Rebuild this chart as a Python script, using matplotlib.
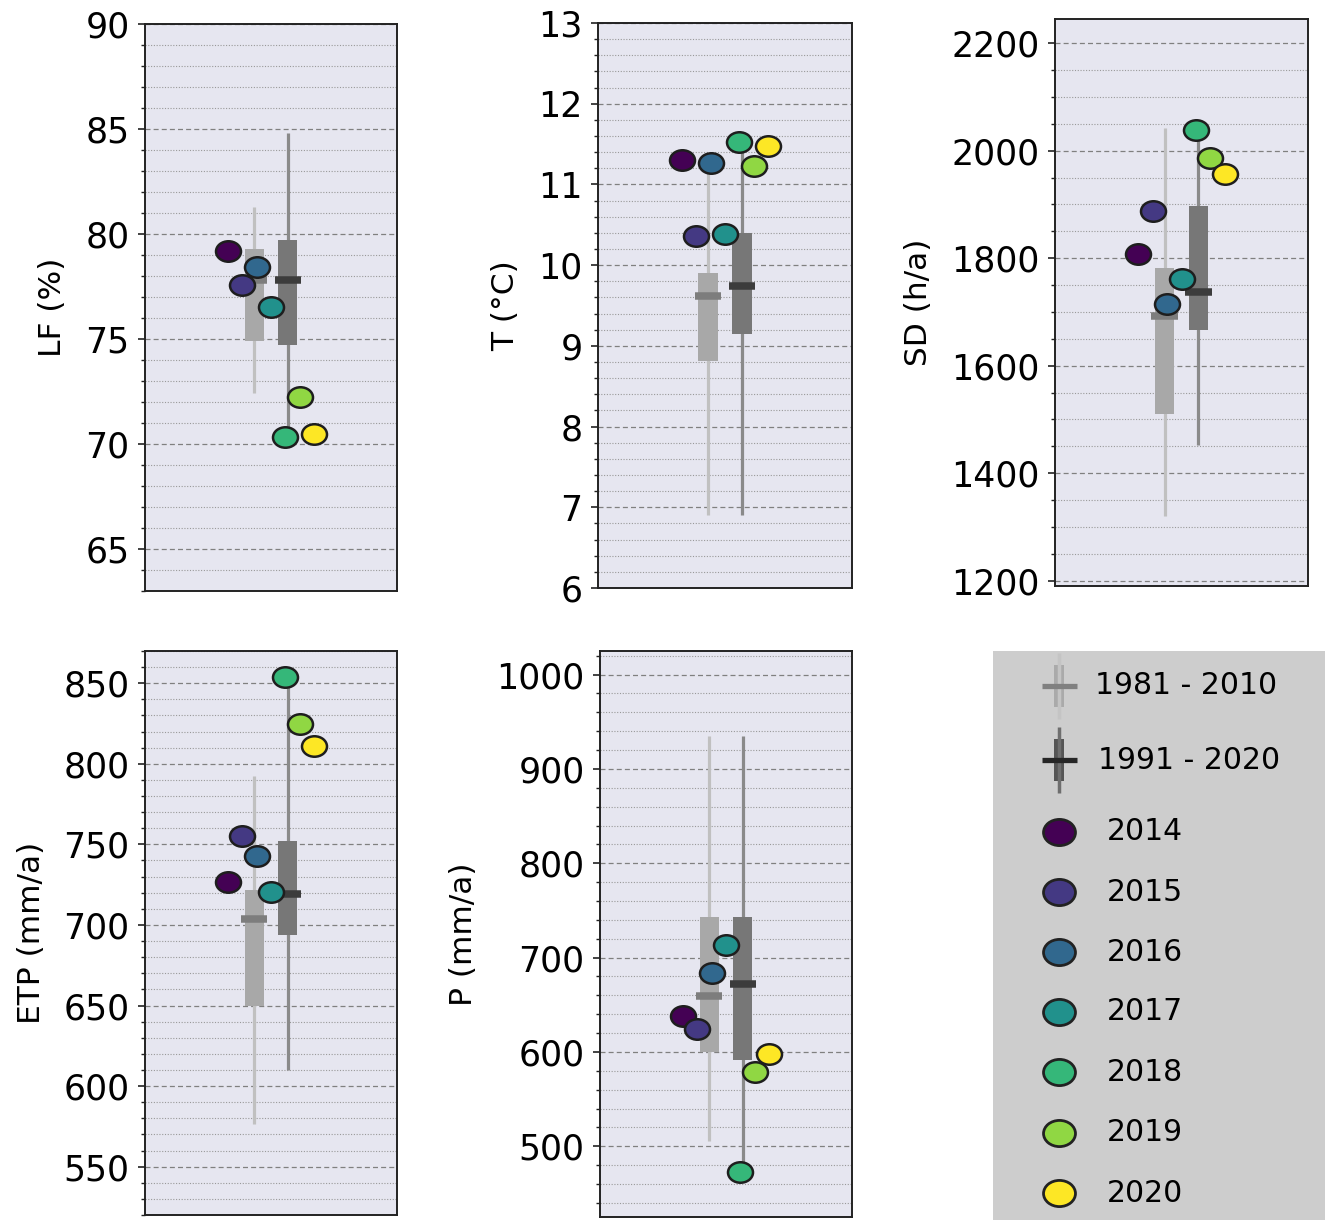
import numpy as np
import matplotlib
matplotlib.use("Agg")
import matplotlib.pyplot as plt
from matplotlib.path import Path
from matplotlib.ticker import MultipleLocator

# ---------------- data ----------------
years = ["2014", "2015", "2016", "2017", "2018", "2019", "2020"]
periods = ["1981 - 2010", "1991 - 2020"]

ylabels = ["LF (%)", "T (°C)", "SD (h/a)", "ETP (mm/a)", "P (mm/a)"]

lf_years = [79.2, 77.55, 78.4, 76.5, 70.3, 72.2, 70.45]
lf_ref1 = dict(lo=72.4, q1=74.9, med=77.8, q3=79.3, hi=81.3)
lf_ref2 = dict(lo=70.3, q1=74.7, med=77.8, q3=79.7, hi=84.8)

t_years = [11.30, 10.36, 11.26, 10.38, 11.53, 11.23, 11.48]
t_ref1 = dict(lo=6.90, q1=8.81, med=9.62, q3=9.90, hi=11.2)
t_ref2 = dict(lo=6.90, q1=9.15, med=9.74, q3=10.40, hi=11.53)

sd_years = [1807, 1887, 1714, 1762, 2038, 1986, 1956]
sd_ref1 = dict(lo=1321, q1=1511, med=1692, q3=1781, hi=2043)
sd_ref2 = dict(lo=1453, q1=1666, med=1737, q3=1897, hi=2038)

etp_years = [726.6, 755.3, 742.9, 720.5, 853.8, 824.9, 811.1]
etp_ref1 = dict(lo=576.5, q1=649.5, med=703.8, q3=721.8, hi=792.4)
etp_ref2 = dict(lo=609.7, q1=693.6, med=718.9, q3=752.1, hi=853.8)

p_years = [637.8, 623.9, 683.8, 713.5, 472.6, 579.2, 597.7]
p_ref1 = dict(lo=505.8, q1=600.4, med=659.5, q3=743.2, hi=934.4)
p_ref2 = dict(lo=472.6, q1=591.5, med=672.2, q3=743.2, hi=934.4)

# ---------------- style ----------------
W, H = 1325, 1220
fig = plt.figure(figsize=(W / 100, H / 100), dpi=100)

def rect(l, t, r, b):
    return [l / W, 1 - b / H, (r - l) / W, (b - t) / H]

year_colors = [plt.cm.viridis(v) for v in np.linspace(0, 1, len(years))]
circ = Path.unit_circle()
ell = Path(circ.vertices * np.array([1.22, 1.0]), circ.codes)

ref_styles = [
    dict(whisk="#c0c0c0", box="#a8a8a8", med="#7d7d7d"),
    dict(whisk="#8a8a8a", box="#777777", med="#3c3c3c"),
]
box_x = [0.433, 0.567]
pt_x = [0.5 + (i - 3) * 0.0567 for i in range(len(years))]

panels = [
    (rect(145, 24, 397, 590.5), lf_years, [lf_ref1, lf_ref2], (63, 90), 5, 1),
    (rect(598, 23, 852, 588), t_years, [t_ref1, t_ref2], (6, 13), 1, 0.2),
    (rect(1055, 19, 1308, 585.5), sd_years, [sd_ref1, sd_ref2], (1191, 2245), 200, 50),
    (rect(145, 651, 397, 1215), etp_years, [etp_ref1, etp_ref2], (520, 870), 50, 10),
    (rect(600, 651, 852, 1217), p_years, [p_ref1, p_ref2], (425, 1025), 100, 20),
]

for (pos, vals, refs, ylim, maj, mnr), lab in zip(panels, ylabels):
    ax = fig.add_axes(pos)
    ax.set_facecolor("#e6e6f0")
    ax.set_xlim(0, 1)
    ax.set_ylim(*ylim)
    ax.yaxis.set_major_locator(MultipleLocator(maj))
    ax.yaxis.set_minor_locator(MultipleLocator(mnr))
    ax.set_xticks([])
    ax.set_axisbelow(True)
    ax.grid(True, which="major", axis="y", ls=(0, (4, 2.5)), lw=0.9, color="#808080")
    ax.grid(True, which="minor", axis="y", ls=(0, (1, 1.5)), lw=0.8, color="#999999")
    for s in ax.spines.values():
        s.set_color("#222222")
        s.set_linewidth(1.4)
    ax.tick_params(axis="y", which="major", length=5, width=1.2, labelsize=25,
                   color="#222222", pad=6)
    ax.tick_params(axis="y", which="minor", length=3, width=1.0, color="#222222")
    ax.set_ylabel(lab, fontsize=22.5, labelpad=13)

    for x, r, st in zip(box_x, refs, ref_styles):
        ax.vlines(x, r["lo"], r["hi"], colors=st["whisk"], lw=2.3, zorder=2)
        ax.bar(x, r["q3"] - r["q1"], bottom=r["q1"], width=0.075, color=st["box"], zorder=3)
        ax.hlines(r["med"], x - 0.053, x + 0.053, colors=st["med"], lw=5.4,
                  zorder=4, capstyle="butt")

    for x, v, c in zip(pt_x, vals, year_colors):
        ax.plot([x], [v], marker=ell, ms=18, mfc=c, mec="#1e1e1e", mew=1.8,
                ls="none", zorder=5)

# ---------------- legend panel ----------------
lax = fig.add_axes(rect(993, 651, W, H))
lax.set_facecolor("#cdcdcd")
lax.set_xlim(0, 1)
lax.set_ylim(0, 1)
lax.set_xticks([])
lax.set_yticks([])
for s in lax.spines.values():
    s.set_visible(False)

hx = 0.2
ref_y = [0.9385, 0.808]
leg_styles = [
    dict(whisk="#c4c4c4", box="#aaaaaa", med="#808080"),
    dict(whisk="#6e6e6e", box="#555555", med="#262626"),
]
for y, st, name, tx in zip(ref_y, leg_styles, periods, [0.306, 0.315]):
    lax.vlines(hx, y - 0.058, y + 0.058, colors=st["whisk"], lw=2.5)
    lax.bar(hx, 0.074, bottom=y - 0.037, width=0.03, color=st["box"])
    lax.hlines(y, hx - 0.052, hx + 0.052, colors=st["med"], lw=3.8, capstyle="butt")
    lax.text(tx, y, name, fontsize=21.5, va="center", ha="left")

year_y = [0.682, 0.576, 0.471, 0.366, 0.260, 0.153, 0.047]
for y, c, name in zip(year_y, year_colors, years):
    lax.plot([hx], [y], marker=ell, ms=23, mfc=c, mec="#222222", mew=2.0, ls="none")
    lax.text(0.342, y, name, fontsize=21.5, va="center", ha="left")

fig.savefig("out.png", dpi=100)
